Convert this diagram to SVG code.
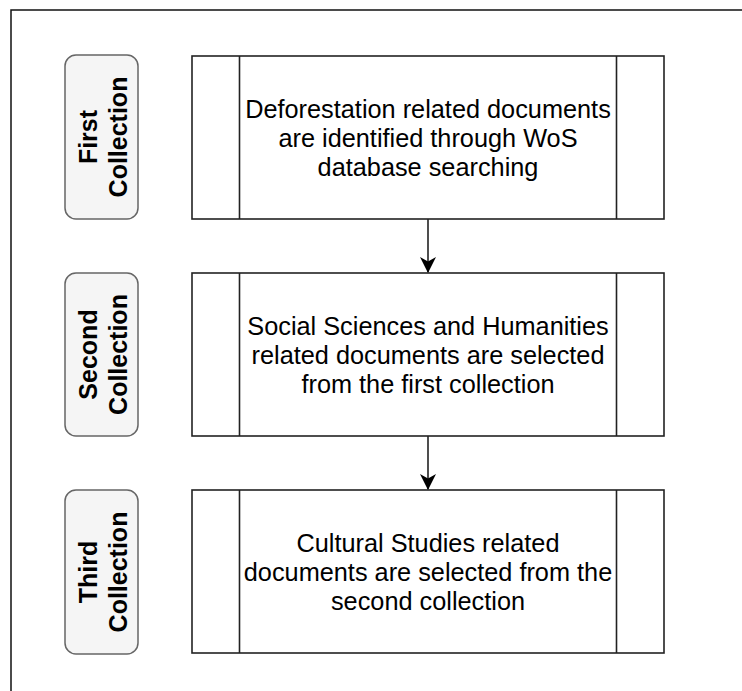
<svg xmlns="http://www.w3.org/2000/svg" width="742" height="691" viewBox="0 0 742 691">
<style>
.frame{fill:none;stroke:#111;stroke-width:1.5}
.lbl{fill:#f5f5f5;stroke:#666;stroke-width:1.5}
.box{fill:#fff;stroke:#222;stroke-width:1.6}
.bar{fill:none;stroke:#222;stroke-width:1.6}
.lt{font-family:"Liberation Sans",Arial,sans-serif;font-weight:bold;font-size:25px;fill:#000;text-anchor:middle}
.bt{font-family:"Liberation Sans",Arial,sans-serif;font-size:25.3px;fill:#000;text-anchor:middle}
.conn{fill:none;stroke:#222;stroke-width:1.6}
</style>
<defs>
<marker id="arr" markerWidth="16" markerHeight="16" viewBox="0 0 16 16" refX="15" refY="8" orient="auto" markerUnits="userSpaceOnUse">
<path d="M0,0 L16,8 L0,16 L4.5,8 Z" fill="#000"/>
</marker>
</defs>
<rect width="742" height="691" fill="#fff"/>
<path class="frame" d="M11,691 L11,10 L742,10"/>

<g id="label1">
<rect class="lbl" x="65" y="55" width="73" height="164" rx="11"/>
<text class="lt" transform="translate(101.5,137) rotate(-90)"><tspan x="0" y="-4.5">First</tspan><tspan x="0" y="25.5">Collection</tspan></text>
</g>
<g id="label2">
<rect class="lbl" x="65" y="273" width="73" height="163" rx="11"/>
<text class="lt" transform="translate(101.5,354.5) rotate(-90)"><tspan x="0" y="-4.5">Second</tspan><tspan x="0" y="25.5">Collection</tspan></text>
</g>
<g id="label3">
<rect class="lbl" x="65" y="490" width="73" height="164" rx="11"/>
<text class="lt" transform="translate(101.5,572) rotate(-90)"><tspan x="0" y="-4.5">Third</tspan><tspan x="0" y="25.5">Collection</tspan></text>
</g>

<g id="box1">
<rect class="box" x="192" y="56" width="472" height="163"/>
<path class="bar" d="M239.5,56 V219 M616.5,56 V219"/>
<text class="bt"><tspan x="428" y="118">Deforestation related documents</tspan><tspan x="428" y="147">are identified through WoS</tspan><tspan x="428" y="176">database searching</tspan></text>
</g>
<g id="box2">
<rect class="box" x="192" y="273" width="472" height="163"/>
<path class="bar" d="M239.5,273 V436 M616.5,273 V436"/>
<text class="bt"><tspan x="428" y="335">Social Sciences and Humanities</tspan><tspan x="428" y="364">related documents are selected</tspan><tspan x="428" y="393">from the first collection</tspan></text>
</g>
<g id="box3">
<rect class="box" x="192" y="490" width="472" height="163"/>
<path class="bar" d="M239.5,490 V653 M616.5,490 V653"/>
<text class="bt"><tspan x="428" y="552">Cultural Studies related</tspan><tspan x="428" y="581">documents are selected from the</tspan><tspan x="428" y="610">second collection</tspan></text>
</g>

<g id="connectors">
<path class="conn" d="M428,219 V272" marker-end="url(#arr)"/>
<path class="conn" d="M428,436 V489" marker-end="url(#arr)"/>
</g>
</svg>
